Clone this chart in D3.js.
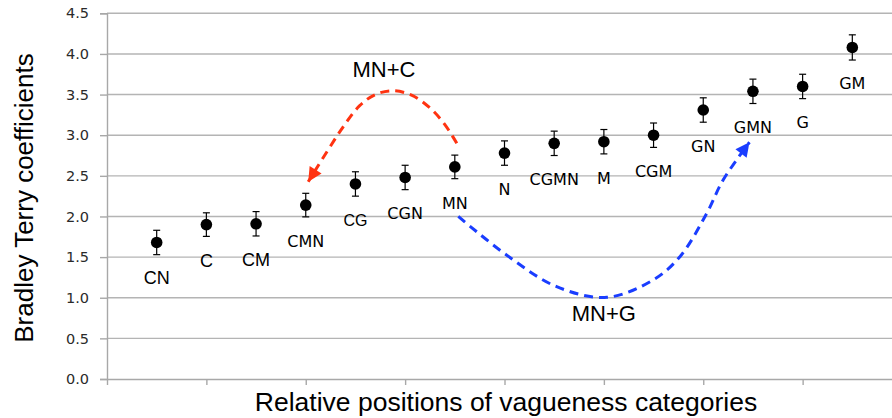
<!DOCTYPE html>
<html>
<head>
<meta charset="utf-8">
<script src="https://cdn.jsdelivr.net/npm/d3@7"></script>
<style>
  html, body { margin: 0; padding: 0; background: #fff; }
  svg { display: block; }
</style>
</head>
<body>
<svg id="chart" width="892" height="418"></svg>
<script>
// ---- data ----
const categories   = ["CN","C","CM","CMN","CG","CGN","MN","N","CGMN","M","CGM","GN","GMN","G","GM"];
const positions    = [1,2,3,4,5,6,7,8,9,10,11,12,13,14,15];
const coefficients = [1.68,1.90,1.91,2.14,2.40,2.48,2.61,2.78,2.90,2.92,3.00,3.31,3.54,3.60,4.08];
const errors       = [0.15,0.145,0.15,0.145,0.15,0.15,0.145,0.15,0.15,0.15,0.15,0.15,0.15,0.15,0.155];
const yTicks       = [0,0.5,1,1.5,2,2.5,3,3.5,4,4.5];
const xTicks       = [0,2,4,6,8,10,12,14];
const redPath  = [[7.04,2.90],[6.80,3.13],[6.51,3.33],[6.14,3.49],[5.76,3.547],[5.40,3.50],[5.08,3.36],[4.75,3.10],[4.42,2.79],[4.05,2.428]];
const bluePath = [[7.07,2.00],[8.04,1.526],[9.05,1.136],[10.06,1.005],[10.99,1.218],[11.53,1.505],[12.07,2.039],[12.40,2.449],[12.93,2.913]];
const annotations = [
  {text: "MN+C", x: 5.575, y: 3.716},
  {text: "MN+G", x: 10.0,  y: 0.71}
];

// ---- layout ----
const svg = d3.select("#chart");
const W = 892, H = 418;
const x = d3.scaleLinear().domain([0,16]).range([107, 902]);
const y = d3.scaleLinear().domain([0,4.5]).range([379, 13.3]);

const defs = svg.append("defs");
defs.append("filter").attr("id","soft").attr("x","-50%").attr("y","-50%").attr("width","200%").attr("height","200%")
  .append("feGaussianBlur").attr("stdDeviation", 0.7);
function marker(id, color) {
  defs.append("marker").attr("id", id)
    .attr("viewBox","0 0 10 10").attr("refX",10).attr("refY",5)
    .attr("markerUnits","userSpaceOnUse")
    .attr("markerWidth",16).attr("markerHeight",14)
    .attr("orient","auto")
    .append("path").attr("d","M0,0 L10,5 L0,10 Z").attr("fill", color);
}
marker("redArrow", "#ff3311");
marker("blueArrow", "#1a3dff");

// gridlines
svg.append("g").selectAll("line").data(yTicks.filter(d => d > 0)).join("line")
  .attr("x1", x(0)).attr("x2", W)
  .attr("y1", d => y(d)).attr("y2", d => y(d))
  .attr("stroke", "#b4b4b4").attr("stroke-width", 1.4);

// y axis
const yAxis = svg.append("g").attr("transform", `translate(${x(0)},0)`)
  .call(d3.axisLeft(y).tickValues(yTicks).tickFormat(d3.format(".1f")).tickSize(7).tickPadding(11));
yAxis.select(".domain").attr("stroke", "#a8a8a8").attr("stroke-width", 1.4);
yAxis.selectAll(".tick line").attr("stroke", "#a8a8a8").attr("stroke-width", 1.4);
yAxis.selectAll(".tick text").attr("font-family", "DejaVu Sans").attr("font-size", 14.5).attr("fill", "#2a2a2a");

// x axis
const xAxis = svg.append("g").attr("transform", `translate(0,${y(0)})`)
  .call(d3.axisBottom(x).tickValues(xTicks).tickFormat("").tickSize(6).tickSizeOuter(0));
xAxis.select(".domain").attr("stroke", "#a8a8a8").attr("stroke-width", 1.4);
xAxis.selectAll(".tick line").attr("stroke", "#a8a8a8").attr("stroke-width", 1.4);

// axis titles
svg.append("text").attr("transform", `translate(33,198) rotate(-90)`)
  .attr("text-anchor","middle").attr("font-family","Liberation Sans, Arial").attr("font-size", 26)
  .attr("fill","#000").text("Bradley Terry coefficients");
svg.append("text").attr("x", 506).attr("y", 411)
  .attr("text-anchor","middle").attr("font-family","Liberation Sans, Arial").attr("font-size", 26.5)
  .attr("fill","#000").text("Relative positions of vagueness categories");

// annotation curves
const line = d3.line().x(d => x(d[0])).y(d => y(d[1])).curve(d3.curveCatmullRom.alpha(0.5));
svg.append("path").attr("d", line(redPath)).attr("fill","none")
  .attr("stroke","#ff3311").attr("stroke-width",3).attr("stroke-dasharray","9,6")
  .attr("marker-end","url(#redArrow)");
svg.append("path").attr("d", line(bluePath)).attr("fill","none")
  .attr("stroke","#1a3dff").attr("stroke-width",3).attr("stroke-dasharray","9,6")
  .attr("marker-end","url(#blueArrow)");
svg.append("g").selectAll("text").data(annotations).join("text")
  .attr("x", d => x(d.x)).attr("y", d => y(d.y))
  .attr("text-anchor","middle").attr("font-family","Liberation Sans, Arial").attr("font-size", 22)
  .attr("fill","#000").text(d => d.text);

// data
const data = categories.map((c,i) => ({cat: c, pos: positions[i], val: coefficients[i], err: errors[i]}));

// error bars
const eb = svg.append("g").attr("stroke","#000").attr("stroke-width",1.2);
data.forEach(d => {
  const cx = x(d.pos), y1 = y(d.val + d.err), y2 = y(d.val - d.err);
  eb.append("line").attr("x1",cx).attr("x2",cx).attr("y1",y1).attr("y2",y2);
  eb.append("line").attr("x1",cx-3.5).attr("x2",cx+3.5).attr("y1",y1).attr("y2",y1);
  eb.append("line").attr("x1",cx-3.5).attr("x2",cx+3.5).attr("y1",y2).attr("y2",y2);
});

// points
svg.append("g").selectAll("circle").data(data).join("circle")
  .attr("cx", d => x(d.pos)).attr("cy", d => y(d.val)).attr("r", 5.8)
  .attr("fill","#000").attr("filter","url(#soft)");

// category labels
const arialLabels = new Set(["CN","C","CM","CG"]);
const labelSize = {CN: 18, C: 18, CM: 18, CG: 16};
svg.append("g").selectAll("text").data(data).join("text")
  .attr("x", d => x(d.pos)).attr("y", d => y(d.val) + 42)
  .attr("text-anchor","middle")
  .attr("font-family", d => arialLabels.has(d.cat) ? "Liberation Sans, Arial" : "DejaVu Sans")
  .attr("font-size", d => labelSize[d.cat] || 16)
  .attr("fill","#000").text(d => d.cat);
</script>
</body>
</html>
